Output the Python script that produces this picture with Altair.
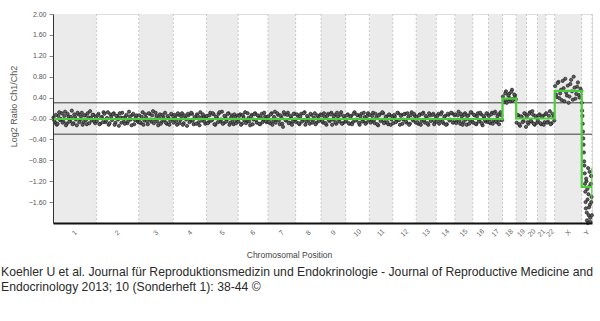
import altair as alt
import pandas as pd

# ---- data -------------------------------------------------------------
chrom_names = ["1", "2", "3", "4", "5", "6", "7", "8", "9", "10", "11", "12",
               "13", "14", "15", "16", "17", "18", "19", "20", "21", "22", "X", "Y"]
chrom_len_mb = [249, 243, 198, 191, 181, 171, 159, 146, 141, 135.5, 135, 134,
                115, 107, 102.5, 90, 81, 78, 59, 63, 48, 51, 155, 59]

# probe log2 ratios, first probe set
ratios_a = {
    "1": [0.02, -0.08, -0.12, 0.05, -0.03, 0.10, -0.06, 0.13, -0.10, 0.04, -0.05, 0.15, -0.09,
          0.03, -0.13, 0.08, -0.02, 0.11, -0.07, 0.06, -0.11, 0.02, 0.14, -0.04, 0.07, -0.09],
    "2": [-0.05, 0.09, -0.10, 0.03, 0.12, -0.07, 0.01, -0.12, 0.08, -0.03, 0.10, -0.08, 0.05,
          -0.14, 0.02, 0.11, -0.06, 0.04, -0.09, 0.13, -0.02, 0.07, -0.11, 0.03, -0.05],
    "3": [0.06, -0.09, 0.12, -0.04, 0.02, -0.11, 0.09, -0.06, 0.14, -0.02, 0.05, -0.13, 0.08,
          -0.07, 0.03, 0.11, -0.10, 0.01, -0.05, 0.07],
    "4": [-0.08, 0.04, -0.12, 0.07, -0.03, 0.10, -0.09, 0.02, -0.14, 0.06, -0.05, 0.09, -0.11,
          0.01, 0.08, -0.07, 0.12, -0.04, 0.03, -0.10],
    "5": [0.05, -0.07, 0.11, -0.03, 0.08, -0.12, 0.02, 0.09, -0.06, 0.13, -0.09, 0.04, -0.02,
          0.10, -0.08, 0.06, -0.11, 0.03, -0.04],
    "6": [-0.06, 0.08, -0.10, 0.03, 0.12, -0.05, 0.01, -0.13, 0.07, -0.02, 0.10, -0.08, 0.05,
          -0.11, 0.09, -0.03, 0.04, -0.07],
    "7": [0.04, -0.09, 0.10, -0.05, 0.13, -0.02, 0.07, -0.11, 0.02, -0.16, 0.08, -0.04, 0.11,
          -0.08, 0.03, -0.06, 0.09],
    "8": [-0.07, 0.05, -0.11, 0.09, -0.03, 0.12, -0.06, 0.02, -0.10, 0.07, -0.04, 0.10, -0.08,
          0.04, -0.02],
    "9": [0.06, -0.08, 0.03, -0.12, 0.09, -0.05, 0.11, -0.02, 0.07, -0.10, 0.04, -0.06, 0.12,
          -0.09, 0.01],
    "10": [-0.04, 0.08, -0.10, 0.05, -0.07, 0.12, -0.02, 0.06, -0.12, 0.09, -0.05, 0.03, -0.08, 0.10],
    "11": [0.07, -0.06, 0.11, -0.09, 0.02, -0.13, 0.08, -0.03, 0.10, -0.07, 0.04, -0.11, 0.06, -0.02],
    "12": [-0.09, 0.04, -0.05, 0.10, -0.12, 0.07, -0.02, 0.09, -0.08, 0.03, -0.10, 0.12, -0.04, 0.05],
    "13": [0.03, -0.10, 0.08, -0.05, 0.11, -0.08, 0.02, -0.12, 0.06, -0.03, 0.09, -0.07],
    "14": [-0.06, 0.09, -0.03, 0.12, -0.09, 0.05, -0.11, 0.07, -0.02, 0.10, -0.07],
    "15": [0.08, -0.05, 0.13, -0.10, 0.04, -0.07, 0.10, -0.12, 0.06, -0.03, 0.11],
    "16": [-0.08, 0.06, -0.11, 0.10, -0.04, 0.08, -0.13, 0.03, -0.06, 0.09],
    "17": [0.05, -0.09, 0.11, -0.04, 0.13, -0.07, 0.08, -0.03, 0.06],
    "18": [0.42, 0.31, 0.52, 0.36, 0.47, 0.33, 0.55, 0.38, 0.44],
    "19": [-0.08, 0.06, -0.14, 0.03, -0.05, 0.09],
    "20": [0.04, -0.10, 0.12, -0.06, 0.07, -0.12, 0.02],
    "21": [-0.04, 0.08, -0.11, 0.05, -0.07],
    "22": [0.10, -0.06, 0.14, -0.09, 0.03],
    "X": [0.62, 0.41, 0.70, 0.48, 0.35, 0.58, 0.76, 0.44, 0.30, 0.66, 0.52, 0.80, 0.38, 0.61,
          0.45, 0.57],
    "Y": [0.30, 0.05, -0.25, -0.50, -0.82, -1.05, -1.40, -1.72, -1.20, -1.95, -1.55, -0.95,
          -1.85, -1.30, -1.65, -1.98, -1.10, -1.50],
}

# probe log2 ratios, second (interleaved) probe set
ratios_b = {
    "1": [-0.04, 0.07, -0.10, 0.12, -0.01, -0.08, 0.05, -0.13, 0.09, -0.06, 0.03, -0.11, 0.08,
          -0.02, 0.11, -0.07, 0.04, -0.12, 0.06, -0.03, 0.10, -0.09, 0.01, 0.07, -0.05, 0.03],
    "2": [0.06, -0.11, 0.02, -0.07, 0.09, -0.04, 0.12, -0.09, 0.03, 0.08, -0.12, 0.05, -0.02,
          0.10, -0.08, 0.01, -0.10, 0.07, -0.05, 0.04, -0.13, 0.09, -0.03, 0.06, -0.07],
    "3": [-0.07, 0.03, -0.12, 0.08, -0.05, 0.10, -0.02, 0.06, -0.09, 0.11, -0.06, 0.02, -0.10,
          0.07, -0.03, -0.08, 0.05, -0.12, 0.09, -0.01],
    "4": [0.07, -0.05, 0.10, -0.09, 0.04, -0.12, 0.06, -0.02, 0.09, -0.07, 0.11, -0.04, 0.03,
          -0.10, 0.05, -0.13, 0.02, 0.08, -0.06, 0.04],
    "5": [-0.09, 0.06, -0.04, 0.10, -0.11, 0.03, -0.07, 0.12, -0.02, -0.10, 0.05, -0.06, 0.09,
          -0.12, 0.02, -0.05, 0.08, -0.09, 0.06],
    "6": [0.05, -0.12, 0.07, -0.04, -0.09, 0.10, -0.06, 0.04, -0.11, 0.08, -0.03, 0.06, -0.10,
          0.02, -0.07, 0.11, -0.05, 0.03],
    "7": [-0.06, 0.08, -0.12, 0.03, -0.08, 0.10, -0.04, 0.06, -0.10, 0.12, -0.03, 0.07, -0.09,
          0.05, -0.12, 0.09, -0.02],
    "8": [0.08, -0.09, 0.04, -0.06, 0.10, -0.12, 0.05, -0.03, 0.09, -0.08, 0.02, -0.11, 0.06,
          -0.05, 0.08],
    "9": [-0.05, 0.10, -0.09, 0.05, -0.03, 0.08, -0.12, 0.04, -0.07, 0.11, -0.02, 0.07, -0.10,
          0.05, -0.06],
    "10": [0.06, -0.09, 0.03, -0.11, 0.09, -0.04, 0.07, -0.08, 0.04, -0.06, 0.11, -0.10, 0.05, -0.03],
    "11": [-0.08, 0.05, -0.03, 0.09, -0.11, 0.06, -0.05, 0.12, -0.09, 0.03, -0.07, 0.08, -0.12, 0.04],
    "12": [0.07, -0.07, 0.11, -0.03, 0.05, -0.10, 0.08, -0.05, 0.10, -0.12, 0.06, -0.02, 0.09, -0.08],
    "13": [-0.07, 0.06, -0.12, 0.09, -0.03, 0.05, -0.09, 0.10, -0.05, 0.07, -0.11, 0.04],
    "14": [0.05, -0.10, 0.08, -0.06, 0.03, -0.12, 0.09, -0.04, 0.11, -0.08, 0.06],
    "15": [-0.09, 0.06, -0.04, 0.09, -0.12, 0.07, -0.02, 0.05, -0.10, 0.12, -0.06],
    "16": [0.07, -0.10, 0.04, -0.06, 0.11, -0.09, 0.05, -0.03, 0.10, -0.07],
    "17": [-0.06, 0.08, -0.10, 0.10, -0.05, 0.04, -0.11, 0.12, -0.03],
    "18": [0.35, 0.48, 0.30, 0.44, 0.39, 0.51, 0.34, 0.46, 0.37],
    "19": [0.07, -0.11, 0.04, -0.07, 0.10, -0.16],
    "20": [-0.07, 0.09, -0.04, 0.14, -0.10, 0.05, -0.08],
    "21": [0.06, -0.09, 0.03, -0.12, 0.08],
    "22": [-0.08, 0.05, -0.11, 0.09, -0.04],
    "X": [0.46, 0.68, 0.39, 0.55, 0.72, 0.33, 0.50, 0.63, 0.42, 0.74, 0.36, 0.59, 0.47, 0.69,
          0.40, 0.53],
    "Y": [0.15, -0.10, -0.38, -0.65, -0.90, -1.25, -1.60, -1.15, -1.80, -1.35, -2.00, -1.45,
          -1.70, -1.02, -1.90, -1.25, -1.60, -1.85],
}

# segmentation (green step line): chromosome where a segment starts, and its mean
seg_start_chrom = ["1", "18", "19", "X", "Y"]
seg_value = [-0.01, 0.38, 0.0, 0.53, -1.31]
# error bar on Y segment
y_err_low, y_err_high = -1.56, -0.95

thresholds = [0.3, -0.3]
y_tick_values = [2.0, 1.6, 1.2, 0.8, 0.4, 0.0, -0.4, -0.8, -1.2, -1.6]

caption_1 = ("Koehler U et al. Journal für Reproduktionsmedizin und Endokrinologie - "
             "Journal of Reproductive Medicine and")
caption_2 = "Endocrinology 2013; 10 (Sonderheft 1):  38-44 ©"

# ---- derived tables -----------------------------------------------------
starts = []
pos = 0.0
for L in chrom_len_mb:
    starts.append(pos)
    pos += L
total = pos

chrom_df = pd.DataFrame({
    "name": chrom_names,
    "start": starts,
    "end": [s + L for s, L in zip(starts, chrom_len_mb)],
    "mid": [s + L / 2 for s, L in zip(starts, chrom_len_mb)],
    "shade": [i % 2 == 0 for i in range(len(chrom_names))],
    "lo": [-2.0] * len(chrom_names),
    "hi": [2.0] * len(chrom_names),
})

rows = []
for name, s, L in zip(chrom_names, starts, chrom_len_mb):
    for offset, table in ((0.25, ratios_a), (0.75, ratios_b)):
        vals = table[name]
        n = len(vals)
        for i, v in enumerate(vals):
            rows.append({"pos": s + (i + offset) * L / n, "ratio": v})
pts_df = pd.DataFrame(rows)

seg_rows = []
for k, (c, v) in enumerate(zip(seg_start_chrom, seg_value)):
    seg_rows.append({"pos": starts[chrom_names.index(c)], "val": v, "o": k})
seg_rows.append({"pos": total, "val": seg_value[-1], "o": len(seg_rows)})
seg_df = pd.DataFrame(seg_rows)

err_df = pd.DataFrame({"pos": [total - 1.5], "lo": [y_err_low], "hi": [y_err_high]})
thr_df = pd.DataFrame({"t": thresholds})

# ---- chart ----------------------------------------------------------------
W, H = 539, 209
FONT = "Liberation Sans"

xscale = alt.Scale(domain=[0, total], nice=False, zero=False)
yscale = alt.Scale(domain=[-2, 2], nice=False)

xaxis = alt.Axis(labels=False, ticks=False, grid=False, domainColor="#111", domainWidth=2,
                 zindex=1,
                 title="Chromosomal Position", titleFont=FONT, titleFontSize=8.5,
                 titleFontWeight="normal", titleColor="#444", titleX=236, titleY=27,
                 titleAnchor="middle")
yaxis = alt.Axis(values=y_tick_values, grid=False, tickSize=4, tickColor="#888",
                 labelExpr="datum.value == 0 ? '-0.00' : format(datum.value, '.2f')",
                 labelOverlap=False, labelFont=FONT, labelFontSize=7, labelColor="#555",
                 labelPadding=3, domainColor="#333", domainWidth=1, zindex=1,
                 title="Log2 Ratio Ch1/Ch2", titleFont=FONT, titleFontSize=9,
                 titleFontWeight="normal", titleColor="#555", titleX=-40, titleY=92,
                 titleAngle=270, titleBaseline="middle")


def X(f):
    return alt.X(f, scale=xscale, axis=xaxis, title="Chromosomal Position")


def Y(f):
    return alt.Y(f, scale=yscale, axis=yaxis, title="Log2 Ratio Ch1/Ch2")


base = alt.Chart(chrom_df)

bands = base.transform_filter("datum.shade").mark_rect(color="#ebebeb").encode(
    x=X("start:Q"),
    x2="end:Q",
    y=Y("lo:Q"),
    y2="hi:Q",
)

bounds = base.mark_rule(color="#c8c8c8", strokeDash=[2, 2], strokeWidth=1).encode(
    x=X("end:Q"),
)

thr = alt.Chart(thr_df).mark_rule(color="#3a3a3a", strokeWidth=1).encode(
    y=Y("t:Q"),
)

points = alt.Chart(pts_df).mark_circle(size=11, color="#5c5c5c", opacity=1,
                                       stroke="#151515", strokeWidth=0.6).encode(
    x=X("pos:Q"),
    y=Y("ratio:Q"),
)

seg = alt.Chart(seg_df).mark_line(color="#4ccf3c", strokeWidth=2.2,
                                  interpolate="step-after").encode(
    x=X("pos:Q"),
    y=Y("val:Q"),
    order="o:Q",
)

err = alt.Chart(err_df).mark_rule(color="#4ccf3c", strokeWidth=1).encode(
    x=X("pos:Q"),
    y=Y("lo:Q"),
    y2="hi:Q",
)

labels = base.mark_text(font=FONT, fontSize=7, color="#666", angle=315,
                        align="center", baseline="middle").encode(
    x=X("mid:Q"),
    y=alt.value(H + 10),
    text="name:N",
)

cap1 = alt.Chart(chrom_df).transform_filter("datum.name == '1'").mark_text(
    font=FONT, fontSize=12.2, color="#2a2a2a", align="left", baseline="alphabetic",
    text=caption_1,
).encode(x=alt.value(-52), y=alt.value(H + 53))

cap2 = alt.Chart(chrom_df).transform_filter("datum.name == '1'").mark_text(
    font=FONT, fontSize=12.2, color="#2a2a2a", align="left", baseline="alphabetic",
    text=caption_2,
).encode(x=alt.value(-52), y=alt.value(H + 68))

chart = alt.layer(bands, bounds, thr, points, seg, err, labels, cap1, cap2).properties(
    width=W, height=H,
    autosize=alt.AutoSizeParams(type="none"),
    padding={"left": 53, "top": 14, "right": 8, "bottom": 98},
).configure_view(stroke=None).configure(background="white")

chart.save("out.html", embed_options={"renderer": "svg", "actions": False})
